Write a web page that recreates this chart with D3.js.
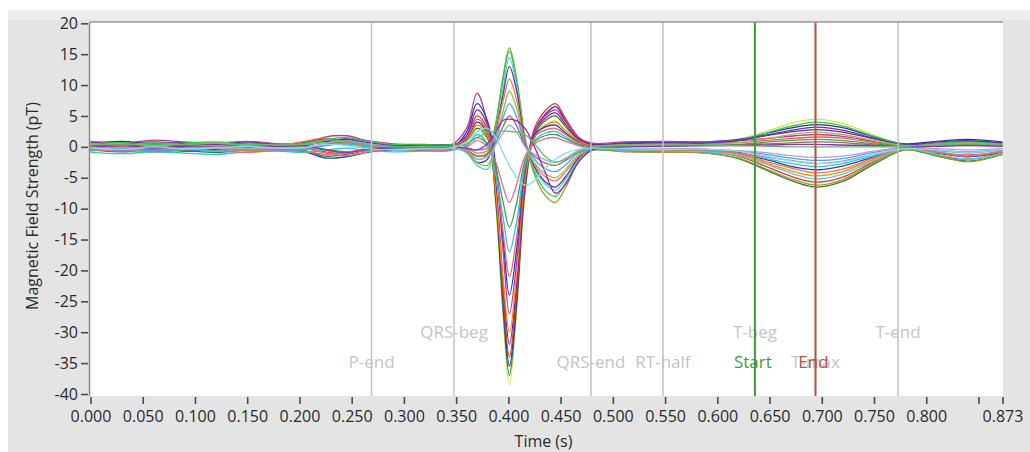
<!DOCTYPE html>
<html>
<head>
<meta charset="utf-8">
<script src="https://cdn.jsdelivr.net/npm/d3@7"></script>
<style>
  html, body { margin: 0; padding: 0; background: #fff; }
  svg { display: block; font-family: "Open Sans", "Noto Sans", sans-serif; }
</style>
</head>
<body>
<div id="chart"></div>
<script>
// Butterfly plot of all channels, one beat
const times = [0.000, 0.030, 0.060, 0.090, 0.120, 0.150, 0.180,
  0.205, 0.225, 0.245, 0.265, 0.290, 0.320, 0.345,
  0.360, 0.370, 0.380, 0.388, 0.395, 0.401, 0.408, 0.416, 0.425, 0.435, 0.445, 0.455, 0.467, 0.480,
  0.510, 0.550, 0.590, 0.620, 0.650, 0.675, 0.695, 0.720, 0.750, 0.780, 0.810, 0.840, 0.873];

// one row per channel, same length as times (pT)
const traces = [
  [0.3, -0.2, 0.4, 0.1, -0.3, 0.2, 0.0,  0.4, 1.0, 0.7, -0.1, -0.3, -0.2, -0.1,  0.8, 2.5, 1.2, -9.5, -27.5, -38.5, -26.5, -7.5, 1.5, 3.6, 4.2, 2.6, 0.9, 0.3,  0.4, 0.5, 0.6, 1.2, 2.7, 4.0, 4.5, 3.8, 1.9, 0.3, 0.6, 0.9, 0.4],
  [-0.5, -0.8, -0.4, -0.6, -0.9, -0.5, -0.3,  -0.6, -1.5, -1.2, -0.5, -0.4, -0.6, -0.5,  1.0, 3.0, 1.5, -9.0, -26.5, -37.0, -25.5, -7.0, 2.0, 4.2, 5.0, 3.2, 1.2, -0.2,  -0.6, -0.8, -1.0, -1.9, -4.0, -5.7, -6.5, -5.6, -2.8, -0.5, -1.5, -2.3, -1.2],
  [0.6, 0.9, 0.5, 0.7, 0.4, 0.8, 0.5,  0.7, 1.3, 1.0, 0.4, 0.2, 0.3, 0.3,  1.2, 4.0, 2.0, -8.0, -25.0, -35.5, -24.5, -6.0, 2.5, 5.2, 6.5, 4.2, 1.5, 0.5,  0.5, 0.6, 0.7, 1.1, 2.3, 3.2, 3.6, 3.1, 1.6, 0.5, 0.9, 1.2, 0.8],
  [-0.3, 0.2, -0.5, -0.2, 0.3, -0.4, -0.1,  -0.2, -0.8, -1.1, -0.6, -0.3, -0.5, -0.4,  1.6, 5.0, 2.8, -7.0, -24.0, -34.0, -23.5, -5.5, 3.0, 5.8, 7.0, 4.5, 1.6, 0.2,  -0.3, -0.5, -0.8, -1.5, -3.4, -5.0, -5.7, -4.9, -2.4, -0.4, -1.3, -2.0, -1.0],
  [0.1, 0.4, 0.0, 0.3, 0.5, 0.1, 0.2,  0.3, 0.8, 1.2, 0.5, 0.1, 0.2, 0.1,  1.8, 6.0, 3.5, -6.0, -22.0, -32.0, -22.0, -5.0, 2.5, 4.6, 5.5, 3.6, 1.3, 0.4,  0.6, 0.8, 0.8, 1.2, 1.9, 2.5, 2.8, 2.4, 1.3, 0.4, 0.2, 0.5, 0.3],
  [-0.7, -0.4, -0.8, -0.5, -0.3, -0.6, -0.4,  -0.3, 0.3, 0.6, 0.1, -0.2, -0.4, -0.3,  1.0, 3.5, 1.8, -7.5, -21.5, -30.0, -20.5, -5.0, 1.5, 3.4, 4.0, 2.6, 1.0, 0.1,  -0.2, -0.3, -0.5, -1.2, -2.8, -4.1, -4.7, -4.0, -2.0, -0.3, -0.8, -1.4, -0.6],
  [0.9, 0.6, 1.1, 0.8, 0.6, 0.9, 0.5,  0.5, 1.6, 1.8, 1.0, 0.5, 0.4, 0.3,  3.0, 8.7, 3.8, -3.5, -17.0, -27.0, -18.5, -4.0, 2.5, 5.0, 6.0, 4.0, 1.5, 0.6,  0.8, 0.9, 0.8, 1.0, 1.4, 1.8, 2.0, 1.7, 0.9, 0.2, 0.6, 0.9, 0.7],
  [-0.2, -0.6, -0.3, -0.7, -0.4, -0.2, -0.5,  -0.8, -1.8, -1.6, -0.9, -0.5, -0.4, -0.3,  2.4, 7.0, 4.2, -3.0, -15.0, -24.0, -16.5, -3.5, 2.0, 3.2, 3.5, 2.2, 0.8, -0.1,  -0.3, -0.4, -0.4, -0.9, -2.2, -3.3, -3.7, -3.1, -1.6, -0.2, -1.0, -1.6, -0.9],
  [0.5, 0.2, 0.6, 0.3, 0.1, 0.4, 0.2,  0.9, 1.4, 0.8, 0.2, -0.1, 0.0, 0.1,  1.5, 4.5, 2.5, -4.0, -14.0, -21.0, -14.5, -3.0, 1.6, 2.7, 3.0, 2.0, 0.7, 0.2,  0.3, 0.4, 0.5, 0.7, 1.1, 1.4, 1.6, 1.4, 0.7, 0.1, 0.4, 0.6, 0.3],
  [-0.9, -1.1, -0.8, -1.0, -1.2, -0.8, -0.7,  -0.9, -0.5, -0.2, -0.6, -0.8, -0.7, -0.6,  0.2, 2.0, 0.5, -4.5, -11.5, -17.0, -12.0, -3.0, 1.0, 2.2, 2.5, 1.6, 0.4, -0.4,  -0.6, -0.7, -0.7, -1.0, -2.0, -2.8, -3.2, -2.7, -1.4, -0.3, -0.6, -1.0, -0.5],
  [0.2, 0.0, 0.3, -0.1, 0.1, 0.3, 0.1,  0.2, -0.4, -0.8, -0.5, -0.2, -0.1, 0.0,  0.4, 1.5, 0.4, -3.5, -9.0, -13.0, -9.0, -2.2, 0.8, 1.8, 2.0, 1.3, 0.4, 0.1,  0.2, 0.2, 0.3, 0.4, 0.8, 1.1, 1.2, 1.0, 0.5, 0.1, 0.3, 0.4, 0.2],
  [-0.4, -0.7, -0.5, -0.3, -0.6, -0.9, -0.6,  -0.7, -1.2, -0.9, -0.3, -0.4, -0.5, -0.5,  0.0, 1.0, 0.0, -2.5, -6.5, -9.0, -6.0, -1.5, 0.5, 1.3, 1.5, 0.9, 0.2, -0.3,  -0.5, -0.6, -0.7, -1.0, -1.7, -2.3, -2.7, -2.3, -1.2, -0.4, -0.9, -1.3, -0.8],
  [-0.6, -0.3, -0.8, -0.5, -0.2, -0.6, -0.4,  -0.5, 0.4, 0.8, 0.2, -0.3, -0.4, -0.3,  -0.6, -1.5, -1.0, 4.0, 11.5, 16.0, 11.0, 1.5, -4.5, -7.8, -9.0, -6.5, -2.5, -0.6,  -0.8, -0.9, -1.0, -1.8, -3.8, -5.4, -6.2, -5.3, -2.6, -0.4, -1.4, -2.4, -1.2],
  [0.4, 0.7, 0.3, 0.6, 0.8, 0.4, 0.5,  0.6, 1.2, 1.5, 0.9, 0.4, 0.3, 0.3,  -0.5, -2.0, -1.3, 3.5, 11.0, 15.5, 10.5, 1.0, -4.0, -7.0, -8.0, -5.8, -2.2, -0.3,  0.3, 0.5, 0.6, 1.0, 2.4, 3.5, 4.0, 3.4, 1.7, 0.3, 0.5, 0.8, 0.5],
  [0.0, -0.3, 0.2, -0.2, 0.0, 0.2, -0.1,  0.1, -0.6, -1.0, -0.5, -0.1, 0.0, 0.0,  -1.0, -3.0, -3.6, 1.5, 9.5, 14.5, 9.8, 0.5, -3.5, -6.0, -7.0, -5.2, -2.0, -0.4,  -0.5, -0.6, -0.8, -1.4, -3.0, -4.5, -5.2, -4.4, -2.2, -0.3, -1.2, -2.0, -1.0],
  [0.7, 0.4, 0.8, 0.5, 0.3, 0.6, 0.4,  0.3, 0.9, 1.3, 0.7, 0.2, 0.2, 0.2,  -0.8, -2.5, -2.0, 2.5, 8.5, 13.0, 9.0, 0.8, -3.2, -5.6, -6.5, -4.8, -1.8, -0.2,  0.6, 0.7, 0.6, 1.0, 2.0, 2.8, 3.2, 2.7, 1.4, 0.3, 0.8, 1.0, 0.6],
  [-0.2, 0.1, -0.3, 0.0, -0.1, -0.4, -0.2,  -0.3, -1.0, -1.4, -0.8, -0.3, -0.2, -0.2,  -0.3, -1.0, -0.6, 2.5, 7.5, 11.0, 7.5, 0.8, -2.8, -4.8, -5.5, -4.0, -1.5, -0.5,  -0.4, -0.5, -0.6, -1.1, -2.5, -3.6, -4.2, -3.6, -1.8, -0.2, -0.9, -1.5, -0.7],
  [0.3, 0.5, 0.2, 0.4, 0.6, 0.3, 0.3,  0.4, 0.7, 0.3, -0.2, -0.3, -0.1, 0.0,  -0.9, -2.6, -3.0, 0.8, 5.8, 9.0, 6.2, 0.2, -2.6, -4.3, -5.0, -3.6, -1.3, 0.0,  0.3, 0.4, 0.4, 0.7, 1.4, 2.1, 2.4, 2.0, 1.0, 0.2, 0.4, 0.6, 0.4],
  [-0.5, -0.2, -0.6, -0.4, -0.7, -0.3, -0.5,  -0.4, 0.2, 0.5, 0.0, -0.3, -0.4, -0.3,  -0.2, -0.5, -0.2, 1.8, 4.8, 7.0, 4.8, 0.5, -2.0, -3.5, -4.0, -2.9, -1.0, -0.4,  -0.3, -0.4, -0.5, -0.7, -1.3, -1.9, -2.2, -1.9, -0.9, -0.1, -0.5, -0.8, -0.4],
  [0.1, 0.3, -0.1, 0.2, 0.0, 0.1, 0.2,  0.0, 0.5, 0.9, 0.4, 0.1, 0.0, 0.0,  -0.5, -1.5, -1.2, 0.8, 3.3, 5.0, 3.4, 0.2, -1.5, -2.6, -3.0, -2.2, -0.8, 0.0,  0.1, 0.2, 0.2, 0.3, 0.5, 0.7, 0.8, 0.7, 0.3, 0.0, 0.2, 0.3, 0.2],
  [-0.3, -0.5, -0.2, -0.4, -0.1, -0.3, -0.2,  -0.2, 0.6, 1.0, 0.5, 0.0, -0.1, -0.1,  -0.6, -2.0, -1.6, 0.3, 2.3, 3.5, 2.4, 0.0, -1.2, -2.1, -2.5, -1.8, -0.6, -0.2,  -0.2, -0.3, -0.4, -0.6, -1.0, -1.5, -1.7, -1.5, -0.7, -0.1, -0.3, -0.5, -0.3],
  [-0.1, 0.2, -0.2, 0.1, 0.3, 0.0, 0.1,  0.2, -0.5, -0.9, -0.4, -0.1, 0.0, 0.0,  -0.2, -0.5, 0.5, 2.5, 4.3, 4.5, 4.2, 3.0, 0.0, -4.0, -7.5, -6.0, -2.5, -0.5,  0.0, 0.1, 0.2, 0.2, 0.3, 0.4, 0.4, 0.3, 0.2, 0.0, 0.1, 0.2, 0.1],
  [0.6, 0.3, 0.7, 0.4, 0.2, 0.5, 0.3,  0.4, 1.1, 0.9, 0.3, 0.0, 0.1, 0.1,  0.5, 1.5, 2.3, 2.5, 2.6, 2.5, 2.4, 2.0, 0.5, -1.5, -2.5, -2.0, -0.8, 0.0,  0.2, 0.3, 0.3, 0.2, 0.1, 0.0, 0.0, 0.0, 0.0, 0.1, 0.3, 0.5, 0.3],
  [-0.1, -0.4, 0.0, -0.3, -0.2, 0.1, -0.2,  -0.1, 0.4, 0.2, -0.3, -0.5, -0.3, -0.2,  0.8, 2.5, 3.0, 1.5, -1.0, -3.0, -5.0, -6.2, -5.5, -3.5, -2.0, -1.0, -0.4, -0.2,  -0.3, -0.4, -0.4, -0.7, -1.6, -2.4, -2.7, -2.4, -1.2, -0.3, -0.5, -0.9, -0.4]
];

const traceColors = ['#d4e157', '#2e7d32', '#283593', '#e53935', '#7b1fa2', '#fb8c00',
  '#c0399a', '#1e3fd0', '#ff5252', '#26c6da', '#43a047', '#f06292',
  '#9e9d24', '#2ecc40', '#4dd0e1', '#5e35b1', '#ff7043', '#8bc34a',
  '#42a5f5', '#8d6e63', '#b39ddb', '#9c27b0', '#66bb6a', '#80deea'];

const xTickValues = [0, 0.05, 0.1, 0.15, 0.2, 0.25, 0.3, 0.35, 0.4, 0.45, 0.5, 0.55, 0.6, 0.65, 0.7, 0.75, 0.8, 0.85, 0.873];
const xTickLabels = ['0.000', '0.050', '0.100', '0.150', '0.200', '0.250', '0.300', '0.350', '0.400', '0.450',
  '0.500', '0.550', '0.600', '0.650', '0.700', '0.750', '0.800', '', '0.873'];
const yTickValues = [-40, -35, -30, -25, -20, -15, -10, -5, 0, 5, 10, 15, 20];

// fiducial markers and the two cursors
const markerNames = ['P-end', 'QRS-beg', 'QRS-end', 'RT-half', 'T-beg', 'T-max', 'T-end'];
const markerTimes = [0.269, 0.348, 0.479, 0.548, 0.636, 0.694, 0.773];
const cursorNames = ['Start', 'End'];
const cursorTimes = [0.636, 0.694];

const W = 1030, H = 452;
const plot = { left: 90, top: 22, right: 1003, bottom: 396 };
const font = '"Open Sans", "Noto Sans", sans-serif';

const svg = d3.select('#chart').append('svg')
  .attr('width', W)
  .attr('height', H);

// panel background
svg.append('rect').attr('x', 8).attr('y', 10).attr('width', W - 8).attr('height', H - 10).attr('fill', '#e4e4e4');
svg.append('rect').attr('x', 8).attr('y', 10).attr('width', W - 8).attr('height', 10).attr('fill', '#ececec');
svg.append('rect')
  .attr('x', plot.left).attr('y', plot.top)
  .attr('width', plot.right - plot.left).attr('height', plot.bottom - plot.top)
  .attr('fill', '#fff');

const x = d3.scaleLinear().domain([0, 0.873]).range([90.5, 1002.5]);
const y = d3.scaleLinear().domain([-40, 20]).range([394, 23.3]);

svg.append('clipPath').attr('id', 'clip')
  .append('rect')
  .attr('x', plot.left).attr('y', plot.top)
  .attr('width', plot.right - plot.left).attr('height', plot.bottom - plot.top);

// traces
const line = d3.line()
  .x((d, i) => x(times[i]))
  .y(d => y(d))
  .curve(d3.curveCatmullRom.alpha(0.5));

svg.append('g')
  .attr('clip-path', 'url(#clip)')
  .selectAll('path')
  .data(traces)
  .join('path')
    .attr('d', line)
    .attr('fill', 'none')
    .attr('stroke', (d, i) => traceColors[i % traceColors.length])
    .attr('stroke-width', 1.3);

// marker labels (upper row for the "beg"/"T-end" ones)
const upperRow = new Set(['QRS-beg', 'T-beg', 'T-end']);
svg.append('g')
  .selectAll('text')
  .data(markerNames)
  .join('text')
    .attr('x', (d, i) => x(markerTimes[i]))
    .attr('y', d => upperRow.has(d) ? plot.bottom - 58 : plot.bottom - 28)
    .attr('text-anchor', 'middle')
    .attr('font-size', 17)
    .attr('fill', d => d === 'T-max' ? '#bcc6d6' : '#c4c4c4')
    .text(d => d);

// marker lines
svg.append('g')
  .selectAll('line')
  .data(markerTimes)
  .join('line')
    .attr('x1', d => x(d)).attr('x2', d => x(d))
    .attr('y1', plot.top).attr('y2', plot.bottom)
    .attr('stroke', '#c2c2c2')
    .attr('stroke-width', 1.5);

// cursors
const cursorColors = ['#3d9b3d', '#b8543e'];
svg.append('g')
  .selectAll('line')
  .data(cursorTimes)
  .join('line')
    .attr('x1', d => x(d)).attr('x2', d => x(d))
    .attr('y1', plot.top).attr('y2', plot.bottom)
    .attr('stroke', (d, i) => cursorColors[i])
    .attr('stroke-width', 2);

svg.append('g')
  .selectAll('text')
  .data(cursorNames)
  .join('text')
    .attr('x', (d, i) => x(cursorTimes[i]) - 2)
    .attr('y', plot.bottom - 28)
    .attr('text-anchor', 'middle')
    .attr('font-size', 17)
    .attr('fill', (d, i) => cursorColors[i])
    .text(d => d);

// frame: left axis line and top edge
svg.append('line').attr('x1', 89.5).attr('x2', 89.5).attr('y1', plot.top).attr('y2', plot.bottom)
  .attr('stroke', '#8a8a8a').attr('stroke-width', 1.5);
svg.append('line').attr('x1', 89.5).attr('x2', plot.right).attr('y1', 22).attr('y2', 22)
  .attr('stroke', '#9a9a9a').attr('stroke-width', 1.5);

// axes
const yAxis = svg.append('g')
  .attr('transform', 'translate(88,0)')
  .call(d3.axisLeft(y).tickValues(yTickValues).tickFormat(d => String(d)).tickSize(7).tickSizeOuter(0).tickPadding(3));
yAxis.select('.domain').remove();

const xAxis = svg.append('g')
  .attr('transform', `translate(0,${plot.bottom + 1})`)
  .call(d3.axisBottom(x).tickValues(xTickValues).tickFormat((d, i) => xTickLabels[i]).tickSize(7).tickSizeOuter(0).tickPadding(7));
xAxis.select('.domain').remove();

svg.selectAll('.tick line').attr('stroke', '#4a4a4a').attr('stroke-width', 1.6);
svg.selectAll('.tick text')
  .attr('fill', '#2a2a2a')
  .attr('font-size', 16)
  .attr('font-family', font);

// axis titles
svg.append('text')
  .attr('x', (plot.left + plot.right) / 2 - 3)
  .attr('y', 447)
  .attr('text-anchor', 'middle')
  .attr('font-size', 16)
  .attr('fill', '#2a2a2a')
  .text('Time (s)');

svg.append('text')
  .attr('transform', `translate(38,${(plot.top + plot.bottom) / 2 - 3}) rotate(-90)`)
  .attr('text-anchor', 'middle')
  .attr('font-size', 16)
  .attr('fill', '#2a2a2a')
  .text('Magnetic Field Strength (pT)');
</script>
</body>
</html>
